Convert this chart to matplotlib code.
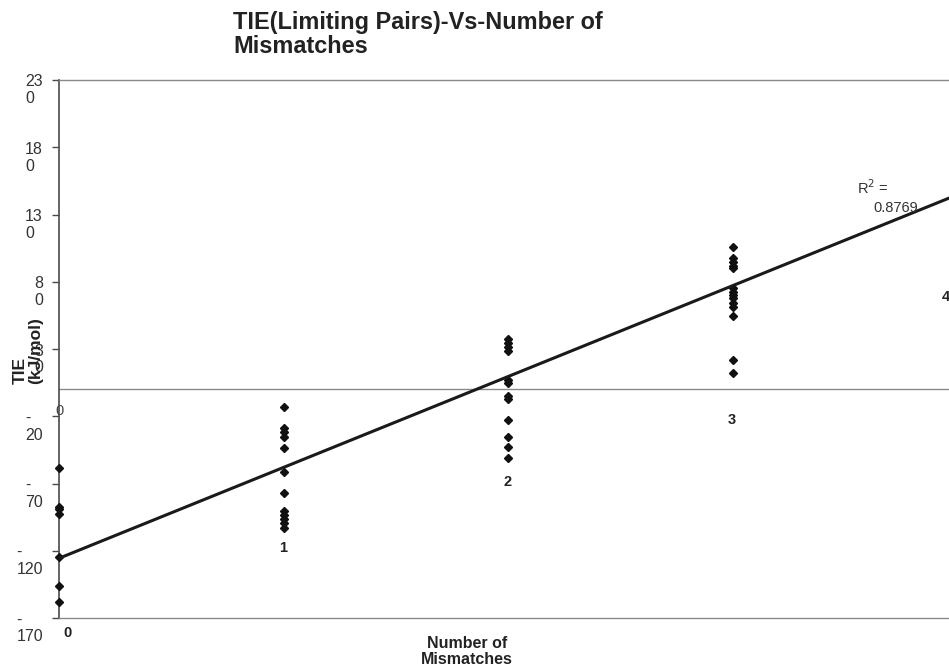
import matplotlib
matplotlib.use("Agg")
import matplotlib.pyplot as plt
from matplotlib.transforms import ScaledTranslation
import numpy as np

plt.rcParams['font.family'] = ['Liberation Sans', 'DejaVu Sans']

# TIE values (kJ/mol) for each number of mismatches
tie_0 = [-58.2, -87.2, -88.9, -92.9, -124.4, -145.9, -157.8]
tie_1 = [-12.9, -28.9, -31.9, -35.2, -43.3, -61.6, -77.2, -90.4, -93.4, -96.3, -99.6, -102.8]
tie_2 = [37.2, 34.3, 31.3, 28.7, 7.0, 4.5, -4.9, -7.4, -22.8, -35.6, -42.6, -51.2]
tie_3 = [105.9, 97.5, 94.9, 92.0, 90.0, 75.2, 72.6, 70.2, 67.7, 64.0, 61.5, 54.6, 21.9, 12.0]
mismatch_counts = [0, 1, 2, 3]

# linear trend line
trend_intercept = -125.6
trend_slope = 67.6
r_squared = 0.8769

y_ticks = [230, 180, 130, 80, 30, -20, -70, -120, -170]
y_tick_labels = ["23\n0", "18\n0", "13\n0", "8\n0", "3\n0", "-\n20", "-\n70", "-\n120", "-\n170"]

category_labels = ["0", "1", "2", "3", "4"]
category_label_y = [-181, -118, -69, -23, 69]

fig = plt.figure(figsize=(9.49, 6.68), dpi=100)
W, H = 949, 668
ax = fig.add_axes([59 / W, 50 / H, (957.7 - 59) / W, 538 / H])
ax.set_xlim(0, 4)
ax.set_ylim(-170, 230)
ax.set_facecolor("white")

ax.spines["right"].set_visible(False)
ax.spines["left"].set_color("#4a4a4a")
ax.spines["left"].set_linewidth(1.2)
for s in ("top", "bottom"):
    ax.spines[s].set_color("#8a8a8a")
    ax.spines[s].set_linewidth(1.0)

# zero line
ax.axhline(0, color="#8a8a8a", lw=1.0, zorder=1)

# y ticks
ax.set_yticks(y_ticks)
ax.set_yticklabels([""] * len(y_ticks))
ax.tick_params(axis="y", direction="out", length=5, width=1, color="#4a4a4a")
ax.set_xticks([])

lab_tr = ax.get_yaxis_transform() + ScaledTranslation(-16 / 100, 5.5 / 100, fig.dpi_scale_trans)
for v, lab in zip(y_ticks, y_tick_labels):
    ax.text(0, v, lab, transform=lab_tr, ha="right", va="top", multialignment="left",
            fontsize=11.5, color="#333333", linespacing=1.15, clip_on=False)

# scatter of TIE values
for x, vals in zip(mismatch_counts, [tie_0, tie_1, tie_2, tie_3]):
    ax.plot(np.full(len(vals), x), vals, linestyle="none", marker="D", ms=4.2,
            color="#111111", zorder=3, clip_on=False)

# trend line
xt = np.array([0, 4])
ax.plot(xt, trend_intercept + trend_slope * xt, color="#1a1a1a", lw=2.2, zorder=4)

# category labels
for i, (lab, yv) in enumerate(zip(category_labels, category_label_y)):
    if i == 0:
        ha, dx = "left", 4
    elif i == len(category_labels) - 1:
        ha, dx = "right", -8
    else:
        ha, dx = "center", -1
    ax.annotate(lab, (i, yv), xytext=(dx, 0), textcoords="offset pixels", ha=ha, va="center",
                fontsize=10.5, fontweight="bold", color="#222222", annotation_clip=False)

# small zero label near the zero line
ax.annotate("0", (0, -16), xytext=(0, 0), textcoords="offset pixels", ha="center", va="center",
            fontsize=10.5, color="#444444", annotation_clip=False)

# R-squared label
fig.text(857 / W, 1 - 188 / H, "R$^2$ =", ha="left", va="center", fontsize=10.5, color="#333333")
fig.text(873 / W, 1 - 208 / H, f"{r_squared:.4f}", ha="left", va="center", fontsize=10.5, color="#333333")

# title and axis labels
fig.text(233 / W, 1 - 11 / H, "TIE(Limiting Pairs)-Vs-Number of\nMismatches", ha="left", va="top",
         fontsize=16.9, fontweight="bold", color="#222222", linespacing=1.05)
fig.text(467 / W, 1 - 636 / H, "Number of\nMismatches", ha="center", va="top",
         fontsize=11.5, fontweight="bold", color="#222222", linespacing=1.05)
fig.text(28 / W, 1 - 384 / H, "TIE\n(kJ/mol)", rotation=90, ha="center", va="bottom",
         multialignment="left", fontsize=12.5, fontweight="bold", color="#222222", linespacing=1.0)

fig.savefig("out.png", dpi=100, facecolor="white")
